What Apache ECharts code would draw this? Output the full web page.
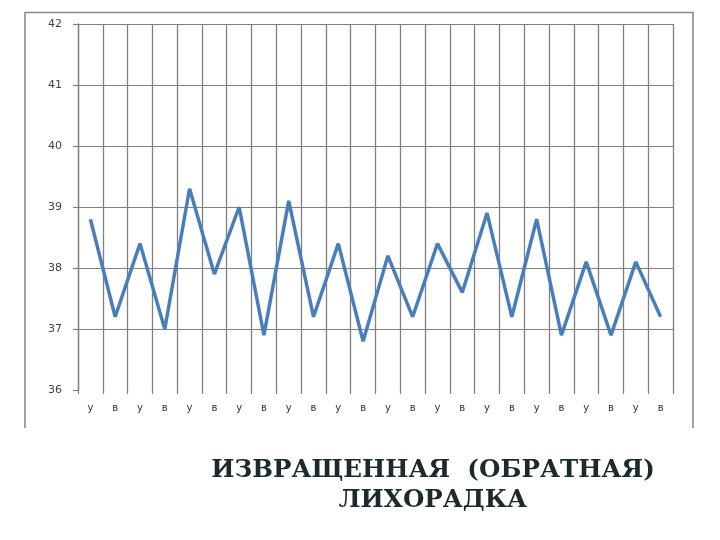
<!DOCTYPE html>
<html>
<head>
<meta charset="utf-8">
<script src="https://cdn.jsdelivr.net/npm/echarts@6/dist/echarts.min.js"></script>
<style>html,body{margin:0;padding:0;background:#fff}#c{width:720px;height:540px}</style>
</head>
<body>
<div id="c"></div>
<script>
const categories = ['у','в','у','в','у','в','у','в','у','в','у','в','у','в','у','в','у','в','у','в','у','в','у','в'];
const temperature = [38.8,37.2,38.4,37.0,39.3,37.9,39.0,36.9,39.1,37.2,38.4,36.8,38.2,37.2,38.4,37.6,38.9,37.2,38.8,36.9,38.1,36.9,38.1,37.2];
const yTicks = [36,37,38,39,40,41,42];
const titleText = 'ИЗВРАЩЕННАЯ  (ОБРАТНАЯ)\nЛИХОРАДКА';

const chart = echarts.init(document.getElementById('c'));
chart.setOption({
  backgroundColor: '#fff',
  animation: false,
  title: {
    text: titleText,
    left: 428,
    top: 451,
    textAlign: 'center',
    textStyle: {
      fontFamily: 'DejaVu Serif',
      fontWeight: 'bold',
      fontSize: 24.6,
      color: '#1b2a2d',
      lineHeight: 30
    }
  },
  graphic: [{
    type: 'polyline',
    shape: { points: [[25, 428], [25, 12.5], [693, 12.5], [693, 428]] },
    style: { stroke: '#8a8a8a', lineWidth: 1.6, fill: null },
    z: 10
  }],
  grid: { left: 78, right: 47, top: 24, bottom: 150 },
  xAxis: {
    type: 'category',
    data: categories,
    boundaryGap: true,
    axisLine: { show: false },
    axisTick: { show: true, length: 4, lineStyle: { color: '#808080', width: 1.2 } },
    splitLine: { show: true, lineStyle: { color: '#808080', width: 1.3 } },
    axisLabel: { color: '#333', fontSize: 10, margin: 13, fontFamily: 'DejaVu Sans' }
  },
  yAxis: {
    type: 'value',
    min: yTicks[0],
    max: yTicks[yTicks.length - 1],
    interval: 1,
    axisLine: { show: true, lineStyle: { color: '#808080', width: 1.3 } },
    axisTick: { show: true, length: 5, lineStyle: { color: '#808080', width: 1.2 } },
    splitLine: { show: true, lineStyle: { color: ['#ffffff', '#808080', '#808080', '#808080', '#808080', '#808080', '#808080'], width: 1.2 } },
    axisLabel: { color: '#444', fontSize: 11, margin: 16, fontFamily: 'DejaVu Sans' }
  },
  series: [{
    type: 'line',
    data: temperature,
    showSymbol: false,
    symbol: 'none',
    lineStyle: { color: '#4a7ebb', width: 3.5 },
    z: 5
  }]
});
</script>
</body>
</html>
